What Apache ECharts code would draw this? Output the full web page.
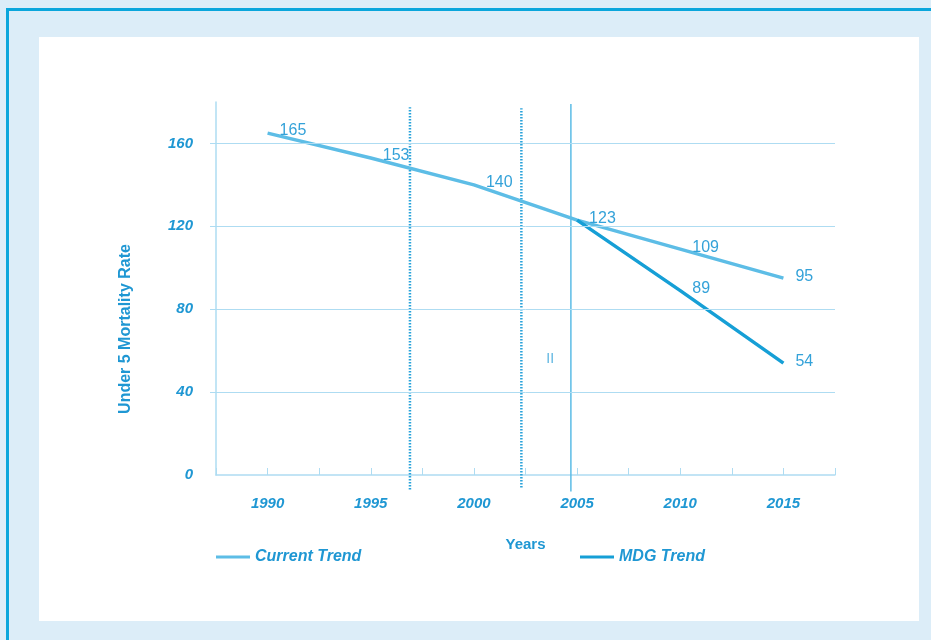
<!DOCTYPE html>
<html>
<head>
<meta charset="utf-8">
<script src="https://cdn.jsdelivr.net/npm/echarts@6/dist/echarts.min.js"></script>
<style>
  body { margin: 0; background: #dcedf8; }
  #frame { position: absolute; left: 6px; top: 8px; width: 940px; height: 650px;
           border-left: 3px solid #0aa6dc; border-top: 3px solid #0aa6dc; }
  #panel { position: absolute; left: 39px; top: 37px; width: 880px; height: 584px; background: #fff; }
  #main { position: absolute; left: 0; top: 0; width: 931px; height: 640px; }
</style>
</head>
<body>
<div id="frame"></div>
<div id="panel"></div>
<div id="main"></div>
<script>
// 数据
var years = [1990, 1995, 2000, 2005, 2010, 2015];
var currentTrend = [165, 153, 140, 123, 109, 95];
var mdgYears = [2005, 2010, 2015];
var mdgTrend = [123, 89, 54];
var yTicks = [0, 40, 80, 120, 160];
var gridValues = [40, 80, 120, 160];
var dottedYears = [1996.9, 2002.3];	//虚线
var dottedSpan = [[-7, 177.5], [-6, 177]];
var solidYear = 2004.7;				//实线
var solidSpan = [-8, 179];
var sectionLabel = [[2003.7, 56, 'II']];

var textBlue = '#1f97d3';
var labelBlue = '#34a2d9';
var gridBlue = '#aedcf2';

function pairs(xs, ys) {
	return xs.map(function (x, i) { return [x, ys[i]]; });
}

var chart = echarts.init(document.getElementById('main'));

var series = [];

//横向网格线
series.push({
	type: 'line',
	data: [],
	silent: true,
	markLine: {
		symbol: 'none',
		silent: true,
		label: { show: false },
		lineStyle: { color: gridBlue, width: 1, type: 'solid' },
		data: gridValues.map(function (v) { return { yAxis: v }; })
	}
});

//竖线
dottedYears.forEach(function (yr, i) {
	series.push({
		type: 'line',
		clip: false,
		silent: true,
		symbol: 'none',
		data: [[yr, dottedSpan[i][0]], [yr, dottedSpan[i][1]]],
		lineStyle: { color: '#2aa3da', width: 2.5, type: [1.5, 1.5] }
	});
});
series.push({
	type: 'line',
	clip: false,
	silent: true,
	symbol: 'none',
	data: [[solidYear, solidSpan[0]], [solidYear, solidSpan[1]]],
	lineStyle: { color: '#5bbce6', width: 1.5 }
});

var dataLabel = {
	show: true, position: 'right', distance: 12, offset: [0, -2],
	color: labelBlue, fontSize: 16, fontFamily: 'Liberation Sans',
	formatter: function (p) { return p.value[1]; }
};

series.push({
	name: 'Current Trend',
	type: 'line',
	symbol: 'circle',
	symbolSize: 0,
	showSymbol: true,
	data: pairs(years, currentTrend),
	lineStyle: { color: '#5dbde6', width: 3.5 },
	itemStyle: { color: '#5dbde6' },
	label: dataLabel,
	z: 3
});

series.push({
	name: 'MDG Trend',
	type: 'line',
	symbol: 'circle',
	symbolSize: 0,
	showSymbol: true,
	data: pairs(mdgYears, mdgTrend).map(function (d, i) {
		return i === 0 ? { value: d, label: { show: false } } : { value: d };
	}),
	lineStyle: { color: '#169fd6', width: 3.5 },
	itemStyle: { color: '#169fd6' },
	label: dataLabel,
	z: 4
});

series.push({
	type: 'scatter',
	symbolSize: 0,
	silent: true,
	data: sectionLabel,
	label: {
		show: true, position: 'inside', color: labelBlue, fontSize: 14,
		fontFamily: 'Liberation Sans',
		formatter: function (p) { return p.value[2]; }
	}
});

var legendText = { color: textBlue, fontSize: 16, fontWeight: 'bold', fontStyle: 'italic', fontFamily: 'Liberation Sans' };

var option = {
	backgroundColor: 'transparent',
	animation: false,
	grid: { left: 216, right: 96, top: 102, bottom: 165, containLabel: false },
	legend: [
		{
			data: ['Current Trend'], left: 216, top: 549, padding: 0, icon: 'rect',
			itemWidth: 34, itemHeight: 3, itemGap: 6, textStyle: legendText
		},
		{
			data: ['MDG Trend'], left: 580, top: 549, padding: 0, icon: 'rect',
			itemWidth: 34, itemHeight: 3, itemGap: 6, textStyle: legendText
		}
	],
	xAxis: {
		type: 'value',
		min: 1987.5,
		max: 2017.5,
		interval: 2.5,
		name: 'Years',
		nameLocation: 'middle',
		nameGap: 62,
		nameTextStyle: { color: textBlue, fontSize: 15, fontWeight: 'bold', fontFamily: 'Liberation Sans' },
		axisLine: { lineStyle: { color: gridBlue, width: 1.5 } },
		axisTick: { inside: true, length: 7, lineStyle: { color: gridBlue } },
		splitLine: { show: false },
		axisLabel: {
			margin: 21, color: textBlue, fontSize: 15, fontWeight: 'bold', fontStyle: 'italic',
			fontFamily: 'Liberation Sans',
			formatter: function (v) { return v % 5 === 0 ? String(v) : ''; }
		}
	},
	yAxis: {
		type: 'value',
		min: 0,
		max: 180,
		axisLine: { show: true, lineStyle: { color: gridBlue, width: 1.5 } },
		axisTick: { show: true, length: 6, customValues: gridValues, lineStyle: { color: gridBlue } },
		splitLine: { show: false },
		axisLabel: {
			customValues: yTicks,
			margin: 23, color: textBlue, fontSize: 15, fontWeight: 'bold', fontStyle: 'italic',
			fontFamily: 'Liberation Sans'
		}
	},
	graphic: [{
		type: 'text',
		x: 126,
		y: 329,
		rotation: Math.PI / 2,
		style: {
			text: 'Under 5 Mortality Rate',
			fill: textBlue,
			font: 'bold 16px "Liberation Sans"',
			textAlign: 'center',
			textVerticalAlign: 'middle'
		}
	}],
	series: series
};

chart.setOption(option);
</script>
</body>
</html>
